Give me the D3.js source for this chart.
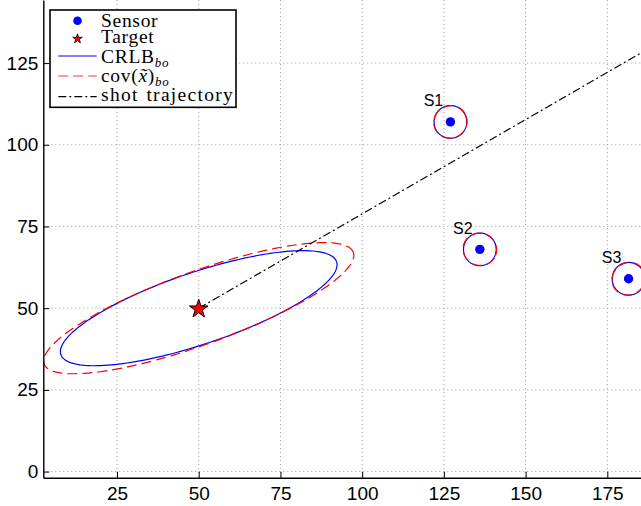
<!DOCTYPE html>
<html>
<head>
<meta charset="utf-8">
<script src="https://cdn.jsdelivr.net/npm/d3@7"></script>
<style>
  body { margin: 0; background: #fff; }
  svg { display: block; }
  .tick text { font-family: "Liberation Sans", Arial, sans-serif; font-size: 19px; fill: #000; }
  .legend text { font-family: "Liberation Serif", "Times New Roman", serif; font-size: 19.5px; letter-spacing: 0.7px; }
</style>
</head>
<body>
<div id="svg-container"></div>
<script>
// axis ticks
const xTicks = [25, 50, 75, 100, 125, 150, 175];
const yTicks = [0, 25, 50, 75, 100, 125];

// sensors
const sensorNames = ['S1', 'S2', 'S3'];
const sensorX = [127, 136, 181.5];
const sensorY = [107, 68, 59];

// target and shot trajectory
const targetXY = [50, 50];
const trajectoryX = [50, 200];
const trajectoryY = [50, 136.6];

// ellipses: [semi-major, semi-minor, tilt in degrees] (data units)
const crlbTarget = [44.5, 11.0, 18.6];
const covTarget = [50.3, 11.2, 19.85];
const crlbSensor = [[5.0, 5.0, 0], [5.0, 5.0, 0], [5.0, 5.0, 0]];
const covSensor = [[5.15, 4.9, 30], [5.15, 4.9, -20], [5.2, 4.85, 40]];

const legendLabels = ['Sensor', 'Target', 'CRLB', 'cov', 'shot trajectory'];

const W = 641, H = 506;
const plot = { left: 43.3, right: 641, top: 0, bottom: 477.7 };

const svg = d3.select('#svg-container')
    .append('svg')
    .attr('width', W)
    .attr('height', H);

const x = d3.scaleLinear().domain([2.45, 185.3]).range([plot.left, plot.right]);
const y = d3.scaleLinear().domain([-1.87, 144.3]).range([plot.bottom, plot.top]);

svg.append('clipPath').attr('id', 'plot-clip')
    .append('rect')
    .attr('x', plot.left).attr('y', plot.top)
    .attr('width', plot.right - plot.left).attr('height', plot.bottom - plot.top);

// grid
const grid = svg.append('g').attr('class', 'grid')
    .attr('stroke', '#9a9a9a').attr('stroke-width', 1).attr('stroke-dasharray', '1,3');
grid.selectAll('line.vx').data(xTicks).enter().append('line')
    .attr('x1', d => x(d)).attr('x2', d => x(d))
    .attr('y1', plot.top).attr('y2', plot.bottom);
grid.selectAll('line.hy').data(yTicks).enter().append('line')
    .attr('x1', plot.left).attr('x2', plot.right)
    .attr('y1', d => y(d)).attr('y2', d => y(d));

const chart = svg.append('g').attr('clip-path', 'url(#plot-clip)');

// ellipse outline in data coords
const ellipsePoints = (cx, cy, p) => {
    const t = p[2] * Math.PI / 180;
    return d3.range(0, 361, 2).map(k => {
        const a = k * Math.PI / 180;
        const ex = p[0] * Math.cos(a), ey = p[1] * Math.sin(a);
        return [cx + ex * Math.cos(t) - ey * Math.sin(t), cy + ex * Math.sin(t) + ey * Math.cos(t)];
    });
};
const line = d3.line().x(d => x(d[0])).y(d => y(d[1]));

const blueEllipses = [ellipsePoints(targetXY[0], targetXY[1], crlbTarget)]
    .concat(sensorX.map((sx, i) => ellipsePoints(sx, sensorY[i], crlbSensor[i])));
const redEllipses = [ellipsePoints(targetXY[0], targetXY[1], covTarget)]
    .concat(sensorX.map((sx, i) => ellipsePoints(sx, sensorY[i], covSensor[i])));

chart.selectAll('path.crlb').data(blueEllipses).enter().append('path')
    .attr('class', 'crlb')
    .attr('d', line)
    .attr('fill', 'none').attr('stroke', '#0000ff').attr('stroke-width', 1.2);

chart.selectAll('path.cov').data(redEllipses).enter().append('path')
    .attr('class', 'cov')
    .attr('d', line)
    .attr('fill', 'none').attr('stroke', '#ff0000').attr('stroke-width', 1.2)
    .attr('stroke-dasharray', '10,5');

// shot trajectory
chart.append('path')
    .datum(trajectoryX.map((tx, i) => [tx, trajectoryY[i]]))
    .attr('d', line)
    .attr('fill', 'none').attr('stroke', '#000').attr('stroke-width', 1.2)
    .attr('stroke-dasharray', '8,3,2,3');

// sensors
chart.selectAll('circle.sensor').data(sensorX).enter().append('circle')
    .attr('class', 'sensor')
    .attr('cx', d => x(d)).attr('cy', (d, i) => y(sensorY[i]))
    .attr('r', 4.7).attr('fill', '#0000ff');

chart.selectAll('text.sensor-label').data(sensorNames).enter().append('text')
    .attr('class', 'sensor-label')
    .attr('x', (d, i) => x(sensorX[i]) - 17)
    .attr('y', (d, i) => y(sensorY[i]) - 15.6)
    .attr('text-anchor', 'middle')
    .style('font-family', '"Liberation Sans", Arial, sans-serif')
    .style('font-size', '16px')
    .text(d => d);

// target star
const starPath = (R) => {
    const r = R * 0.382;
    const pts = d3.range(10).map(k => {
        const a = -Math.PI / 2 + k * Math.PI / 5;
        const rr = k % 2 ? r : R;
        return [rr * Math.cos(a), rr * Math.sin(a)];
    });
    return 'M' + pts.map(p => p.join(',')).join('L') + 'Z';
};
chart.append('path')
    .attr('d', starPath(9.8))
    .attr('transform', `translate(${x(targetXY[0])},${y(targetXY[1]) + 0.8})`)
    .attr('fill', '#ff0000').attr('stroke', '#000').attr('stroke-width', 1);

// axes
svg.append('g').attr('class', 'x-axis')
    .attr('transform', `translate(0,${plot.bottom})`)
    .call(d3.axisBottom(x).tickValues(xTicks).tickSizeInner(-6).tickSizeOuter(0).tickPadding(9));
svg.append('g').attr('class', 'y-axis')
    .attr('transform', `translate(${plot.left},0)`)
    .call(d3.axisLeft(y).tickValues(yTicks).tickSizeInner(-6).tickSizeOuter(0).tickPadding(5));
svg.selectAll('.x-axis path, .y-axis path').attr('stroke', '#000').attr('stroke-width', 1.4);
svg.selectAll('.tick line').attr('stroke', '#000').attr('stroke-width', 1);

// legend
const legend = svg.append('g').attr('class', 'legend');
legend.append('rect')
    .attr('x', 50).attr('y', 10).attr('width', 186).attr('height', 97.3)
    .attr('fill', '#fff').attr('stroke', '#000').attr('stroke-width', 1.6);

const rowY = [20.7, 38.3, 56, 76, 96.7];
const baseY = [27, 43, 62.5, 81.5, 101];
const sx0 = 58.3, sx1 = 96.7, smid = 77.5, tx = 101;

legend.append('circle').attr('cx', smid).attr('cy', rowY[0]).attr('r', 4.3).attr('fill', '#0000ff');
legend.append('path').attr('d', starPath(5))
    .attr('transform', `translate(${smid},${rowY[1] + 0.5})`)
    .attr('fill', '#ff0000').attr('stroke', '#000').attr('stroke-width', 0.8);
legend.append('line').attr('x1', sx0).attr('x2', sx1).attr('y1', rowY[2]).attr('y2', rowY[2])
    .attr('stroke', '#0000ff').attr('stroke-width', 1.2);
legend.append('line').attr('x1', sx0).attr('x2', sx1).attr('y1', rowY[3]).attr('y2', rowY[3])
    .attr('stroke', '#ff3333').attr('stroke-width', 1.2).attr('stroke-dasharray', '10,5');
legend.append('line').attr('x1', sx0).attr('x2', sx1).attr('y1', rowY[4]).attr('y2', rowY[4])
    .attr('stroke', '#000').attr('stroke-width', 1.2).attr('stroke-dasharray', '8,3,2,3');

legend.append('text').attr('x', tx).attr('y', baseY[0]).text(legendLabels[0]);
legend.append('text').attr('x', tx).attr('y', baseY[1]).text(legendLabels[1]);
const crlbText = legend.append('text').attr('x', tx).attr('y', baseY[2]);
crlbText.append('tspan').text(legendLabels[2]);
crlbText.append('tspan').attr('dy', 4).style('font-size', '13px').style('font-style', 'italic').text('bo');
const covText = legend.append('text').attr('x', tx).attr('y', baseY[3]);
covText.append('tspan').text(legendLabels[3] + '(');
covText.append('tspan').style('font-style', 'italic').text('x\u0303');
covText.append('tspan').text(')');
covText.append('tspan').attr('dy', 4).style('font-size', '13px').style('font-style', 'italic').text('bo');
legend.append('text').attr('x', tx).attr('y', baseY[4])
    .style('letter-spacing', '1.3px').style('word-spacing', '1.5px')
    .text(legendLabels[4]);
</script>
</body>
</html>
